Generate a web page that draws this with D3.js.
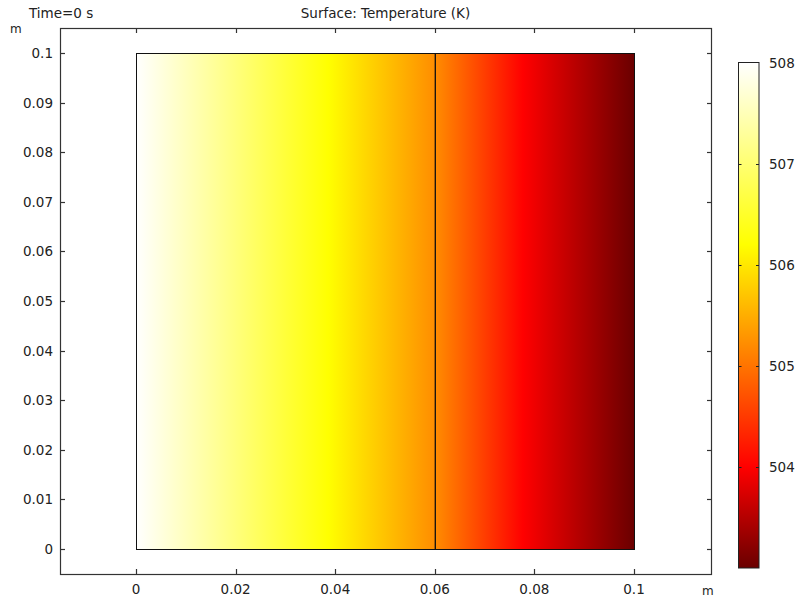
<!DOCTYPE html>
<html>
<head>
<meta charset="utf-8">
<script src="https://cdn.jsdelivr.net/npm/d3@7"></script>
<style>
  body { margin: 0; background: #fff; }
  svg { display: block; font-family: "DejaVu Sans", sans-serif; }
  text { fill: #222; }
</style>
</head>
<body>
<div id="chart"></div>
<script>
// Surface: Temperature (K) at Time=0 s — two-domain slab, T varies along x only.

// temperature read along x (m) → K
const profileX = [0, 0.02, 0.0386, 0.06, 0.0777, 0.09, 0.1];
const profileT = [508.0, 507.08, 506.2, 505.22, 504.0, 503.45, 503.0];

// domain outlines (m)
const blocks = [[0, 0.06], [0.06, 0.1]];
const blockY = [0, 0.1];

// colour table (ThermalLight-like)
const cmapT = [503.0, 504.0, 506.2, 508.0];
const cmapC = ['#6a0000', '#ff0000', '#ffff00', '#ffffff'];

const xTicks = [0, 0.02, 0.04, 0.06, 0.08, 0.1];
const yTicks = [0, 0.01, 0.02, 0.03, 0.04, 0.05, 0.06, 0.07, 0.08, 0.09, 0.1];
const cTicks = [504, 505, 506, 507, 508];

const W = 798, H = 597;
const fL = 60, fR = 711, fT = 28, fB = 574;   // plot frame
const fs = 13.5;

const svg = d3.select('#chart').append('svg').attr('width', W).attr('height', H);

const x = d3.scaleLinear().domain([0, 0.1]).range([136, 634]);
const y = d3.scaleLinear().domain([0, 0.1]).range([549, 53]);
const color = d3.scaleLinear().domain(cmapT).range(cmapC).clamp(true);
const cy = d3.scaleLinear().domain([503, 508]).range([568, 62.5]);

const defs = svg.append('defs');

// surface gradient along x
const gx = defs.append('linearGradient').attr('id', 'surf')
  .attr('gradientUnits', 'userSpaceOnUse')
  .attr('x1', x(0)).attr('x2', x(0.1)).attr('y1', 0).attr('y2', 0);
gx.selectAll('stop').data(profileX).join('stop')
  .attr('offset', d => d / 0.1)
  .attr('stop-color', (d, i) => color(profileT[i]));

// colorbar gradient (bottom → top)
const gc = defs.append('linearGradient').attr('id', 'cbar')
  .attr('x1', 0).attr('x2', 0).attr('y1', 1).attr('y2', 0);
gc.selectAll('stop').data(cmapT).join('stop')
  .attr('offset', d => (d - 503) / 5)
  .attr('stop-color', (d, i) => cmapC[i]);

// surface
svg.append('rect')
  .attr('x', x(0)).attr('y', y(0.1))
  .attr('width', x(0.1) - x(0)).attr('height', y(0) - y(0.1))
  .attr('fill', 'url(#surf)');

svg.selectAll('rect.blk').data(blocks).join('rect')
  .attr('class', 'blk')
  .attr('x', d => x(d[0]) + 0.5).attr('y', y(blockY[1]) + 0.5)
  .attr('width', d => x(d[1]) - x(d[0])).attr('height', y(blockY[0]) - y(blockY[1]))
  .attr('fill', 'none').attr('stroke', '#111').attr('stroke-width', 1);

// frame
svg.append('rect')
  .attr('x', fL + 0.5).attr('y', fT + 0.5)
  .attr('width', fR - fL).attr('height', fB - fT)
  .attr('fill', 'none').attr('stroke', '#333').attr('stroke-width', 1.2);

const tk = 5;
const g = svg.append('g').attr('stroke', '#333').attr('stroke-width', 1.2);
xTicks.forEach(v => {
  const px = Math.round(x(v)) + 0.5;
  g.append('line').attr('x1', px).attr('x2', px).attr('y1', fB).attr('y2', fB - tk);
  g.append('line').attr('x1', px).attr('x2', px).attr('y1', fT).attr('y2', fT + tk);
});
yTicks.forEach(v => {
  const py = Math.round(y(v)) + 0.5;
  g.append('line').attr('x1', fL).attr('x2', fL + tk).attr('y1', py).attr('y2', py);
  g.append('line').attr('x1', fR + 1).attr('x2', fR + 1 - tk).attr('y1', py).attr('y2', py);
});

svg.selectAll('text.xt').data(xTicks).join('text')
  .attr('class', 'xt')
  .attr('x', d => x(d)).attr('y', 594)
  .attr('text-anchor', 'middle').attr('font-size', fs)
  .text(d => d3.format('~g')(d));

svg.selectAll('text.yt').data(yTicks).join('text')
  .attr('class', 'yt')
  .attr('x', 53).attr('y', d => y(d) + 5)
  .attr('text-anchor', 'end').attr('font-size', fs)
  .text(d => d3.format('~g')(d));

svg.append('text').attr('x', 10).attr('y', 33).attr('font-size', 12).text('m');
svg.append('text').attr('x', 702).attr('y', 595).attr('font-size', 12).text('m');

svg.append('text').attr('x', 29).attr('y', 17.5).attr('font-size', fs).text('Time=0 s');
svg.append('text').attr('x', (fL + fR) / 2).attr('y', 17.5).attr('font-size', fs)
  .attr('text-anchor', 'middle').text('Surface: Temperature (K)');

// colorbar
const cbL = 738.5, cbW = 20.5;
svg.append('rect')
  .attr('x', cbL).attr('y', cy(508))
  .attr('width', cbW).attr('height', cy(503) - cy(508))
  .attr('fill', 'url(#cbar)').attr('stroke', '#222').attr('stroke-width', 1);

const cg = svg.append('g').attr('stroke', '#222').attr('stroke-width', 1);
cTicks.filter(v => v < 508).forEach(v => {
  const py = Math.round(cy(v)) + 0.5;
  cg.append('line').attr('x1', cbL).attr('x2', cbL + 3).attr('y1', py).attr('y2', py);
  cg.append('line').attr('x1', cbL + cbW - 3).attr('x2', cbL + cbW).attr('y1', py).attr('y2', py);
});

svg.selectAll('text.ct').data(cTicks).join('text')
  .attr('class', 'ct')
  .attr('x', 769).attr('y', d => cy(d) + 5)
  .attr('font-size', fs)
  .text(d => d);
</script>
</body>
</html>
